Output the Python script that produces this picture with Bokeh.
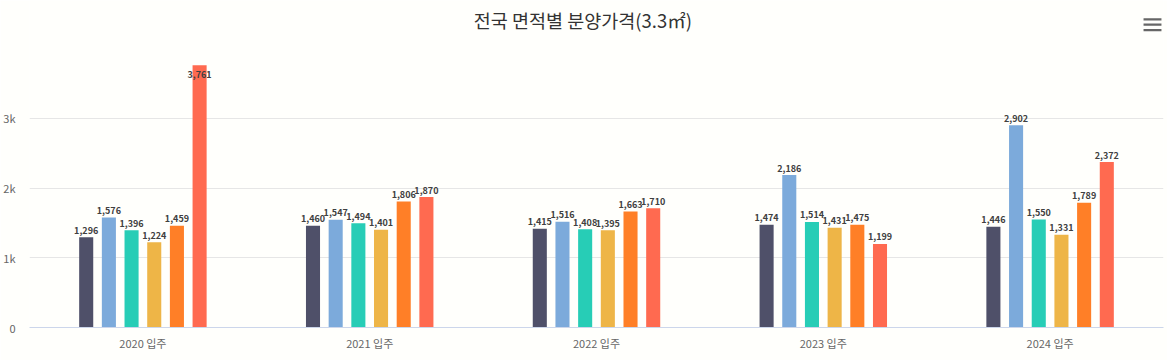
from bokeh.plotting import figure
from bokeh.models import (FactorRange, Range1d, FixedTicker, Label, BoxAnnotation,
                          ColumnDataSource, CustomJSTickFormatter)
from bokeh.transform import dodge
from bokeh.core.properties import value
from bokeh.embed import file_html
from bokeh.resources import INLINE

# ---- data ----
years = ["2020 입주", "2021 입주", "2022 입주", "2023 입주", "2024 입주"]
series_names = ["전용 40㎡ 이하", "전용 40~60㎡", "전용 60~85㎡", "전용 85~102㎡", "전용 102~135㎡", "전용 135㎡ 초과"]
s1 = [1296, 1460, 1415, 1474, 1446]
s2 = [1576, 1547, 1516, 2186, 2902]
s3 = [1396, 1494, 1408, 1514, 1550]
s4 = [1224, 1401, 1395, 1431, 1331]
s5 = [1459, 1806, 1663, 1475, 1789]
s6 = [3761, 1870, 1710, 1199, 2372]
y_ticks = [0, 1000, 2000, 3000]

series = [s1, s2, s3, s4, s5, s6]
colors = ["#4f5069", "#7caadb", "#27cdb6", "#eeb547", "#ff7f27", "#ff6a50"]
offsets = [-0.25, -0.15, -0.05, 0.05, 0.15, 0.25]

Y_END = 4690          # frame spans whole height above the baseline
PLOT_MAX = 3900       # value at the top of the original plotting area
LABEL_ROOM = 244      # room a label needs above its bar, in value units
FONT = "Noto Sans CJK KR"
BG = "#fffffc"

p = figure(width=1167, height=360, x_range=FactorRange(*years), y_range=Range1d(0, Y_END),
           output_backend="svg", toolbar_location=None,
           min_border_left=28, min_border_right=4, min_border_top=0, min_border_bottom=33)
p.background_fill_color = BG
p.border_fill_color = BG
p.outline_line_color = None

for vals, col, off, name in zip(series, colors, offsets, series_names):
    src = ColumnDataSource(dict(year=years, v=vals))
    xd = dodge("year", off, range=p.x_range)
    p.vbar(x=xd, top="v", width=0.062, source=src, fill_color=col, line_color=None)
    above = [i for i, x in enumerate(vals) if x + LABEL_ROOM <= PLOT_MAX]
    inside = [i for i, x in enumerate(vals) if x + LABEL_ROOM > PLOT_MAX]
    if above:
        sa = ColumnDataSource(dict(year=[years[i] for i in above], v=[vals[i] for i in above],
                                   lab=[f"{vals[i]:,}" for i in above]))
        p.text(x=dodge("year", off, range=p.x_range), y="v", text="lab", source=sa,
               text_align="center", text_baseline="alphabetic", y_offset=-7,
               text_font=value(FONT), text_font_size="9px", text_font_style="bold",
               text_color="#404040")
    if inside:
        si = ColumnDataSource(dict(year=[years[i] for i in inside], v=[vals[i] for i in inside],
                                   lab=[f"{vals[i]:,}" for i in inside]))
        p.text(x=dodge("year", off, range=p.x_range), y="v", text="lab", source=si,
               text_align="center", text_baseline="top", y_offset=6,
               text_font=value(FONT), text_font_size="9px", text_font_style="bold",
               text_color="#404040")

# axes
p.xaxis.axis_line_color = "#ccd6eb"
p.xaxis.major_tick_line_color = None
p.xaxis.minor_tick_line_color = None
p.xaxis.major_tick_out = 0
p.xaxis.major_label_standoff = 7
p.xaxis.major_label_text_font = FONT
p.xaxis.major_label_text_font_size = "11px"
p.xaxis.major_label_text_color = "#666666"
p.xgrid.grid_line_color = None

p.yaxis.ticker = FixedTicker(ticks=y_ticks)
p.yaxis.formatter = CustomJSTickFormatter(code="return tick == 0 ? '0' : (tick/1000) + 'k';")
p.yaxis.axis_line_color = None
p.yaxis.major_tick_line_color = None
p.yaxis.minor_tick_line_color = None
p.yaxis.major_tick_out = 0
p.yaxis.major_label_standoff = 14
p.yaxis.major_label_text_font = FONT
p.yaxis.major_label_text_font_size = "11px"
p.yaxis.major_label_text_color = "#666666"
p.ygrid.grid_line_color = "#e6e6e6"
p.ygrid.ticker = FixedTicker(ticks=y_ticks[1:])

# title
p.add_layout(Label(x=2.44, y=4406, text="전국 면적별 분양가격(3.3㎡)", text_align="center",
                   text_baseline="middle", text_font=FONT, text_font_size="18.5px",
                   text_color="#333333"))

# menu icon (three bars)
for top_px in [18, 23.3, 28.7]:
    p.add_layout(BoxAnnotation(left=4.912, right=4.991,
                               top=(327 - top_px) / 0.06967, bottom=(327 - top_px - 2.3) / 0.06967,
                               fill_color="#666666", fill_alpha=1, line_color=None))

html = file_html(p, INLINE)
html = html.replace("<body>", '<body style="background-color:#fffffc;">', 1)
open("out.html", "w").write(html)
